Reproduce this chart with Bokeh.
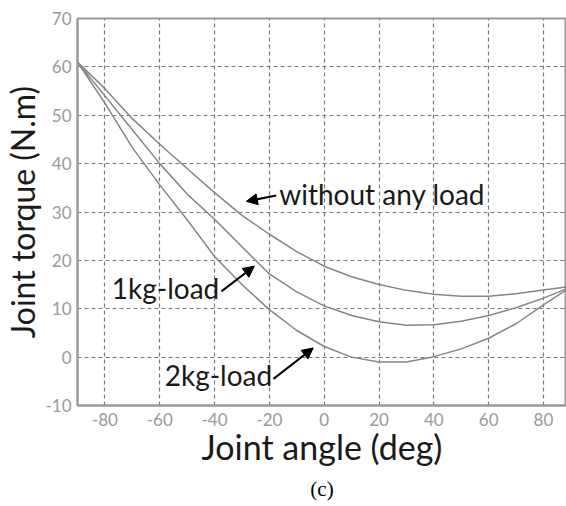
from bokeh.plotting import figure
from bokeh.models import Label, Arrow, NormalHead, FixedTicker, Range1d, Title
from bokeh.embed import file_html
from bokeh.resources import INLINE

# ---- data ----
angle = [-90, -80, -70, -60, -50, -40, -30, -20, -10, 0, 10, 20, 30, 40, 50, 60, 70, 80, 90]
torque_no_load = [61, 55.5, 49.3, 44.0, 39.0, 34.0, 29.3, 25.4, 21.8, 18.8, 16.6, 15.0, 13.8, 13.0, 12.6, 12.6, 13.1, 13.9, 14.6]
torque_1kg = [61, 54.0, 47.0, 40.0, 33.7, 28.5, 22.8, 17.2, 13.5, 10.6, 8.6, 7.3, 6.6, 6.7, 7.4, 8.6, 10.2, 12.2, 14.5]
torque_2kg = [61, 52.5, 43.3, 35.6, 28.4, 20.8, 15.0, 9.8, 5.5, 2.2, 0.0, -1.0, -1.0, 0.1, 1.7, 3.9, 6.9, 10.8, 14.5]
x_ticks = [-80, -60, -40, -20, 0, 20, 40, 60, 80]
y_ticks = [-10, 0, 10, 20, 30, 40, 50, 60, 70]

FONT = "Lato"

p = figure(width=566, height=506, output_backend="svg", toolbar_location=None,
           x_range=Range1d(-90, 88.4), y_range=Range1d(-10, 70),
           min_border_top=18, min_border_right=0, min_border_left=77, min_border_bottom=99,
           background_fill_color="white", border_fill_color="white")

p.outline_line_color = "#9a9a9a"
p.outline_line_width = 2

for ax in (p.xaxis[0], p.yaxis[0]):
    ax.major_tick_line_color = None
    ax.minor_tick_line_color = None
    ax.major_tick_out = 0
    ax.minor_tick_out = 0
    ax.major_tick_in = 0
    ax.minor_tick_in = 0
    ax.axis_line_color = "#9a9a9a"
    ax.axis_line_width = 2
    ax.major_label_text_font = FONT
    ax.major_label_text_font_size = "17px"
    ax.major_label_text_color = "#9a9a9a"
    ax.axis_label_text_font = FONT
    ax.axis_label_text_font_style = "normal"
    ax.axis_label_text_color = "#1a1a1a"
    ax.axis_label_text_line_height = 1.0

p.xaxis.axis_label_text_font_size = "34px"
p.yaxis.axis_label_text_font_size = "32px"
p.xaxis.ticker = FixedTicker(ticks=x_ticks)
p.yaxis.ticker = FixedTicker(ticks=y_ticks)
p.xaxis.major_label_overrides = {t: str(t) for t in x_ticks}
p.yaxis.major_label_overrides = {t: str(t) for t in y_ticks}
p.xaxis.axis_label = "Joint angle (deg)"
p.yaxis.axis_label = "Joint torque (N.m)"
p.xaxis.major_label_standoff = 7
p.yaxis.major_label_standoff = 6
p.xaxis.axis_label_standoff = -3
p.yaxis.axis_label_standoff = 0

p.xgrid.ticker = FixedTicker(ticks=x_ticks)
p.ygrid.ticker = FixedTicker(ticks=y_ticks)
for g in (p.xgrid[0], p.ygrid[0]):
    g.grid_line_color = "#7a7a7a"
    g.grid_line_dash = "4 3"
    g.grid_line_width = 1.2

line_color = "#858585"
p.line(angle, torque_no_load, line_color=line_color, line_width=1.5)
p.line(angle, torque_1kg, line_color=line_color, line_width=1.5)
p.line(angle, torque_2kg, line_color=line_color, line_width=1.5)

def note(text, x, y):
    p.add_layout(Label(x=x, y=y, text=text, text_font=FONT, text_font_size="28px",
                       text_color="#1a1a1a", text_baseline="middle", text_align="left"))

def arrow(x0, y0, x1, y1):
    p.add_layout(Arrow(x_start=x0, y_start=y0, x_end=x1, y_end=y1, line_width=2, line_color="black",
                       end=NormalHead(size=11, fill_color="black", line_color="black")))

note("without any load", -16.4, 33.8)
arrow(-17.5, 33.4, -28.4, 32.2)
note("1kg-load", -77.5, 14.2)
arrow(-37.5, 13.6, -25.5, 18.8)
note("2kg-load", -58.2, -3.7)
arrow(-18.5, -4.5, -4.0, 1.9)

# panel caption below the axis title
p.add_layout(Title(text="(c)", align="center", text_font="Liberation Serif", text_font_size="21px",
                   text_font_style="normal", text_color="black", standoff=11, text_line_height=1.0,
                   offset=-8), "below")

open("out.html", "w").write(file_html(p, INLINE))
